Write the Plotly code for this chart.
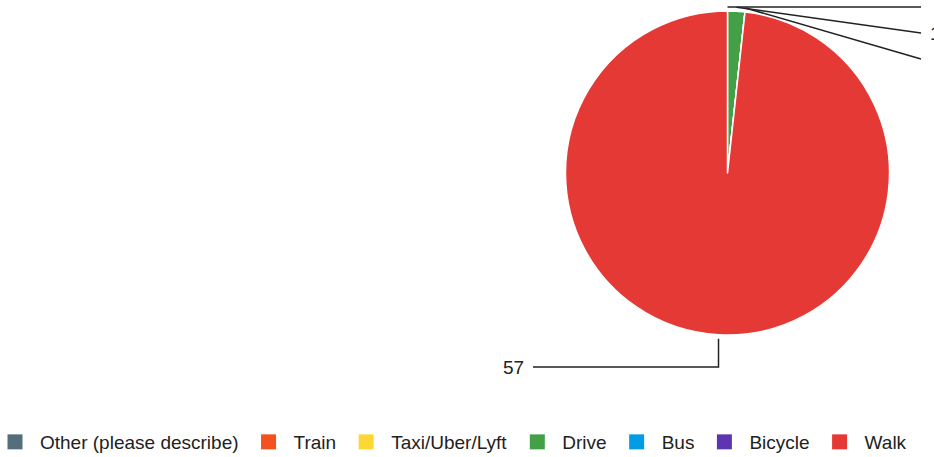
import math
import plotly.graph_objects as go

# Commute mode survey responses
modes = ["Other (please describe)", "Train", "Taxi/Uber/Lyft", "Drive", "Bus", "Bicycle", "Walk"]
counts = [0, 0, 0, 1, 0, 0, 57]
colors = ["#546E7A", "#F4511E", "#FDD835", "#43A047", "#039BE5", "#5E35B1", "#E53935"]

W, H = 934, 457
CX, CY, R = 727.5, 173, 162        # pie centre and radius in pixels
FONT = "Liberation Sans, Arial, Helvetica, sans-serif"
INK = "#222222"


def px(x):
    return x / W


def py(y):
    return 1 - y / H


fig = go.Figure(
    go.Pie(
        labels=modes,
        values=counts,
        sort=False,
        direction="clockwise",
        rotation=0,
        marker=dict(colors=colors, line=dict(color="white", width=1.5)),
        textinfo="none",
        hoverinfo="label+value",
        showlegend=False,
        domain=dict(x=[px(CX - R), px(CX + R)], y=[py(CY + R), py(CY - R)]),
    )
)

# Legend entries with larger square swatches
for name, col in zip(modes, colors):
    fig.add_trace(
        go.Scatter(
            x=[None], y=[None], mode="markers", name=name,
            marker=dict(symbol="square", size=15, color=col, line=dict(width=0)),
            hoverinfo="skip",
        )
    )

# Slice mid-angles (degrees clockwise from 12 o'clock), grouped where they coincide
total = sum(counts)
groups = []
acc = 0
for name, v in zip(modes, counts):
    a0 = acc / total * 360
    acc += v
    a1 = acc / total * 360
    mid = round((a0 + a1) / 2, 3)
    if groups and groups[-1]["angle"] == mid:
        groups[-1]["value"] += v
    else:
        groups.append({"angle": mid, "value": v})

shapes = []
annotations = []
right_y = 7
for g in groups:
    a = math.radians(g["angle"])
    sx = CX + (R + 4) * math.sin(a)
    sy = CY - (R + 4) * math.cos(a)
    label = str(g["value"]) if g["value"] else ""
    if g["angle"] < 180:
        ex, ey = 921, right_y
        path = f"M {px(sx)} {py(sy)} L {px(ex)} {py(ey)}"
        tx, anchor = ex + 7, "left"
        right_y += 26
    else:
        ey = 367
        ex = 533
        path = f"M {px(sx)} {py(sy)} L {px(sx)} {py(ey)} L {px(ex)} {py(ey)}"
        tx, anchor = ex - 7, "right"
    shapes.append(dict(type="path", xref="paper", yref="paper", path=path,
                       line=dict(color=INK, width=1.5)))
    if label:
        annotations.append(dict(xref="paper", yref="paper", x=px(tx), y=py(ey),
                                text=label, showarrow=False, xanchor=anchor,
                                yanchor="middle", font=dict(size=19, color=INK, family=FONT)))

fig.update_layout(
    width=W,
    height=H,
    margin=dict(l=0, r=0, t=0, b=0, autoexpand=False),
    paper_bgcolor="white",
    plot_bgcolor="white",
    font=dict(family=FONT, color=INK),
    xaxis=dict(visible=False),
    yaxis=dict(visible=False),
    shapes=shapes,
    annotations=annotations,
    legend=dict(
        orientation="h",
        x=px(-10),
        xanchor="left",
        y=-4 / H,
        yanchor="bottom",
        itemwidth=40,
        font=dict(size=19, color=INK, family=FONT),
        traceorder="normal",
    ),
)

fig.write_html("out.html")
